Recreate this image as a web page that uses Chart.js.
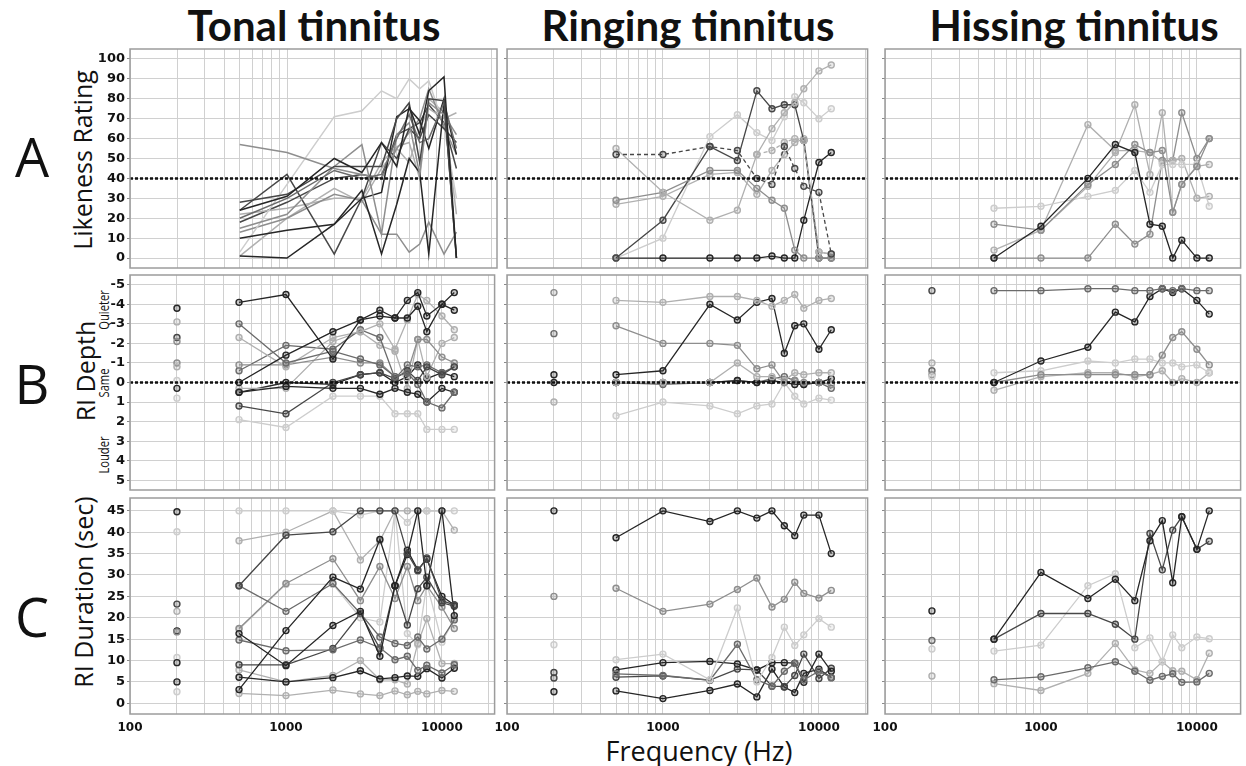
<!DOCTYPE html>
<html>
<head>
<meta charset="utf-8">
<script src="https://cdn.jsdelivr.net/npm/chart.js@4.4.1/dist/chart.umd.min.js"></script>
<style>
body{margin:0;background:#fff;width:1246px;height:766px;position:relative;overflow:hidden;font-family:'Open Sans',sans-serif;color:#111;}
canvas{position:absolute;}
.lab{position:absolute;white-space:nowrap;transform:translate(-50%,-50%);line-height:1;}
.rot{transform:translate(-50%,-50%) rotate(-90deg);}
.tiny{transform:translate(-50%,-50%) rotate(-90deg) scaleX(0.8);font-size:14px;}
.title{font-family:Lato,sans-serif;font-weight:700;font-size:42px;}
.letter{font-size:54px;}
.axt{font-size:25px;}
</style>
</head>
<body>
<div class="lab title" style="left:314px;top:25px">Tonal tinnitus</div>
<div class="lab title" style="left:688px;top:25px">Ringing tinnitus</div>
<div class="lab title" style="left:1074px;top:25px">Hissing tinnitus</div>
<div class="lab letter" style="left:32px;top:156px">A</div>
<div class="lab letter" style="left:32px;top:383px">B</div>
<div class="lab letter" style="left:32px;top:616px">C</div>
<div class="lab axt rot" style="left:82px;top:160px">Likeness Rating</div>
<div class="lab axt rot" style="left:85px;top:371px">RI Depth</div>
<div class="lab tiny" style="left:104px;top:310px">Quieter</div>
<div class="lab tiny" style="left:104px;top:383px">Same</div>
<div class="lab tiny" style="left:104px;top:455px">Louder</div>
<div class="lab axt rot" style="left:83px;top:592px">RI Duration (sec)</div>
<div class="lab" style="left:699px;top:750px;font-size:27px">Frequency (Hz)</div>
<script>
// frequencies (Hz)
var freqs = [500, 1000, 2000, 3000, 4000, 5000, 6000, 7000, 8000, 10000, 12000];
var refFreq = 200;
var gridFreqs = [100, 200, 300, 400, 500, 600, 700, 800, 900, 1000, 2000, 3000, 4000, 5000, 6000, 7000, 8000, 9000, 10000, 20000];
var xTickLabels = [100, 1000, 10000];
var likenessTicks = [0, 10, 20, 30, 40, 50, 60, 70, 80, 90, 100];
var depthTicks = [-5, -4, -3, -2, -1, 0, 1, 2, 3, 4, 5];
var durationTicks = [0, 5, 10, 15, 20, 25, 30, 35, 40, 45];
var likenessCriterion = 40;
var sameDepth = 0;

// A: likeness rating
var tonalLikeness = [
	[24, 31, 50, 43, 58, 46, 76, 62, 84, 91, 0],
	[28, 32, 46, 46, 46, 70, 78, 48, 80, 79, 0],
	[20, 30, 44, 40, 42, 60, 72, 58, 60, 78, 55],
	[15, 22, 46, 57, 12, 62, 68, 42, 78, 72, 62],
	[10, 14, 17, 30, 33, 71, 75, 69, 55, 80, 0],
	[1, 0, 17, 34, 2, 27, 50, 43, 2, 78, 52],
	[24, 42, 2, 30, 58, 50, 65, 60, 72, 65, 58],
	[57, 53, 45, 42, 40, 55, 63, 70, 85, 66, 52],
	[3, 37, 71, 74, 84, 80, 90, 85, 89, 66, 30],
	[13, 20, 32, 29, 12, 12, 3, 7, 18, 2, 13],
	[1, 20, 35, 28, 45, 55, 48, 65, 75, 70, 73],
	[22, 25, 30, 30, 48, 56, 58, 40, 80, 73, 22],
	[18, 28, 40, 42, 40, 62, 65, 68, 77, 68, 45]
];
var ringingLikeness = [
	[55, 33, 19, 24, 52, 65, 73, 78, 85, 94, 97],
	[29, 33, 44, 44, 35, 29, 25, 4, 0, 0, 0],
	[0, 19, 56, 49, 84, 75, 77, 77, 59, 0, 0],
	[0, 10, 61, 72, 63, 59, 71, 81, 78, 70, 75],
	[0, 0, 0, 0, 0, 1, 0, 0, 19, 48, 53],
	[27, 31, 42, 43, 32, 44, 52, 58, 60, 3, 2]
];
var ringingLikenessDashed = [
	[52, 52, 56, 54, 40, 37, 56, 45, 36, 33, 2],
	[null, null, null, null, 52, 54, 58, 60, 59, 3, 2]
];
var hissingLikeness = [
	[0, 16, 40, 57, 53, 17, 16, 0, 9, 0, 0],
	[17, 14, 37, 47, 57, 53, 54, 23, 37, 46, 60],
	[4, 14, 36, 53, 77, 42, 73, 23, 37, 46, 47],
	[25, 26, 31, 34, 44, 33, 47, 47, 47, 47, 26],
	[null, 14, 67, 54, 54, 53, 48, 49, 50, 30, 31],
	[0, 0, 0, 17, 7, 12, 49, 49, 73, 50, 60]
];

// B: RI depth
var tonalDepth = [
	[-4.1, -4.5, -1.2, -3.2, -3.4, -3.3, -3.3, -3.9, -2.6, -4.0, -4.6],
	[0.0, -1.4, -2.6, -3.2, -3.7, -3.3, -4.2, -4.6, -3.4, -4.0, -3.7],
	[-3.0, -1.0, -1.6, -1.2, -0.9, -0.3, -0.5, 0.1, 1.0, 1.3, 0.5],
	[0.5, 0.2, 0.3, 0.3, 0.6, 0.3, 0.5, 0.6, 1.0, 0.3, 0.5],
	[1.2, 1.6, 0.0, -0.4, -0.5, -0.2, -0.6, -0.1, -0.8, -0.4, -0.8],
	[1.9, 2.3, 0.7, 0.7, 0.7, 1.6, 1.6, 1.6, 2.4, 2.4, 2.4],
	[-2.3, -0.8, -2.3, -2.6, -3.0, -1.7, -3.2, -4.5, -4.2, -3.4, -2.7],
	[-0.9, -0.9, -1.3, -1.0, -1.0, -0.3, -0.5, -2.2, -2.2, -1.3, -1.0],
	[-0.6, -1.9, -1.7, -2.7, -2.3, -0.2, -0.9, -0.8, -0.9, -0.5, -0.8],
	[0.3, 0.3, -2.1, -2.6, -1.9, -1.6, 0.3, -2.2, -0.3, -2.0, -2.3],
	[0.5, 0.0, 0.1, -0.4, -0.5, 0.0, -0.3, -0.9, -0.2, -0.5, -0.3]
];
var tonalDepthRef = [-3.8, -3.1, -2.3, -2.1, -1.0, -0.8, -0.1, 0.3, 0.8];
var ringingDepth = [
	[-4.2, -4.1, -4.4, -4.4, -4.2, -3.9, -4.2, -4.5, -3.8, -4.2, -4.3],
	[-0.4, -0.6, -4.0, -3.2, -4.1, -4.3, -1.5, -2.9, -3.0, -1.7, -2.7],
	[-2.9, -2.0, -2.0, -1.9, -0.7, -0.9, 0.0, -0.1, 0.0, 0.0, 0.1],
	[1.7, 1.0, 1.2, 1.6, 1.2, 1.1, 0.0, 0.7, 1.1, 0.8, 0.9],
	[0.0, 0.0, 0.0, -1.0, -0.3, -0.3, -0.1, -0.5, -0.4, -0.5, -0.5],
	[0.0, 0.0, 0.0, -0.1, 0.0, -0.1, 0.0, 0.1, 0.1, 0.0, -0.2],
	[0.0, 0.1, 0.0, -0.1, 0.0, -0.2, -0.3, -0.1, 0.1, 0.0, 0.3]
];
var ringingDepthRef = [-4.6, -2.5, -0.4, 0.0, 1.0];
var hissingDepth = [
	[-4.7, -4.7, -4.8, -4.8, -4.7, -4.7, -4.8, -4.7, -4.8, -4.7, -4.7],
	[0.0, -1.1, -1.8, -3.6, -3.1, -4.4, -4.8, -4.6, -4.8, -4.2, -3.5],
	[0.0, -0.4, -0.4, -0.4, -0.4, -0.4, -1.4, -2.3, -2.6, -1.7, -0.9],
	[-0.5, -0.6, -1.1, -1.0, -1.2, -1.2, -1.0, -1.0, -0.8, -0.9, -0.5],
	[0.4, -0.3, -0.5, -0.5, -0.3, -0.4, -0.6, 0.0, -0.2, 0.0, -0.5]
];
var hissingDepthRef = [-4.7, -1.0, -0.6, -0.4, -0.3];

// C: RI duration (sec)
var tonalDuration = [
	[27.5, 39.3, 40.1, 45, 45, 45, 35, 31, 34, 24, 23],
	[3.2, 17, 29.5, 26.7, 38.3, 27.5, 35.8, 31.2, 33.7, 25, 23],
	[16.3, 8.8, 18.2, 21.5, 11, 27.5, 34.8, 45, 27.5, 45, 20.5],
	[27.5, 21.5, 28, 21, 15.5, 14, 13.5, 15.5, 12.7, 15, 19.5],
	[14.8, 12.3, 12.5, 14.8, 13, 10.2, 11, 7.7, 8.9, 7.1, 9],
	[6.1, 5.0, 6.0, 7.6, 5.7, 6.0, 6.4, 6.3, 8.1, 5.9, 8.2],
	[9, 9, 12.8, 21, 12.8, 27.5, 18.3, 26.8, 29.5, 23.5, 22.7],
	[2.3, 1.8, 3.1, 2.2, 1.8, 2.9, 2.0, 2.8, 2.2, 3.0, 2.8],
	[45, 45, 45, 44, 45, 45, 42.3, 45, 45, 45, 45],
	[38, 40, 45, 33.5, 38, 45, 45, 45, 45, 45, 40.5],
	[17.5, 28, 33.8, 24, 32, 24.5, 32, 24, 27.5, 22.5, 17.5],
	[7.8, 5, 6.5, 10, 5.5, 5.5, 4.5, 14, 19.8, 9.3, 9.3],
	[17.3, 27.8, 27.8, 20, 19, 45, 16.3, 13.7, 28, 14.3, 19.8]
];
var tonalDurationRef = [44.8, 40.1, 23.2, 21.5, 16.9, 16.7, 10.7, 9.5, 5.0, 2.7];
var ringingDuration = [
	[38.7, 45, 42.5, 45, 43.3, 45, 41.5, 39.2, 44, 44, 35],
	[26.9, 21.5, 23.2, 26.6, 29.3, 22.5, 24.3, 28.3, 25.7, 24.6, 26.4],
	[10.2, 11.5, 5.5, 22.3, 5, 10.7, 17.8, 13.5, 16, 19.8, 17.8],
	[6.9, 6.5, 5.4, 13.8, 5.5, 4, 7.5, 9.3, 5.5, 7.5, 6],
	[7.8, 9.5, 9.8, 9.2, 7.8, 9.5, 9.5, 9.4, 4.9, 11.5, 7.5],
	[6.1, 6.4, 5.4, 8, 7.8, 4.0, 3.9, 6.5, 11.5, 5.8, 8.2],
	[2.9, 1.1, 3.0, 4.5, 1.5, 8, 3.8, 2.5, 7, 8, 6]
];
var ringingDurationRef = [45, 25, 13.7, 7.2, 5.9, 2.7];
var hissingDuration = [
	[15, 30.6, 24.5, 29, 24, 38, 42.7, 28.2, 43.6, 36, 45],
	[15, 21, 21, 18.5, 15, 39.7, 31.2, 40.5, 43.6, 36, 37.9],
	[12.2, 13.6, 27.5, 30.3, 13, 15.3, 9.8, 16, 13, 15.5, 15.1],
	[5.5, 6.2, 8.3, 9.7, 7.5, 5.4, 6.3, 6.9, 4.9, 5, 7],
	[4.6, 3, 7, 14, 7.8, 7, 9.7, 7.6, 7.5, 5.5, 11.7]
];
var hissingDurationRef = [21.6, 14.7, 12.7, 6.4];

// grey levels, one letter per series
var inks = {k: '#262626', d: '#474747', m: '#6b6b6b', g: '#8e8e8e', l: '#b0b0b0', x: '#cdcdcd'};
var panels = [
	[
		{s: tonalLikeness, ink: 'kdmgkkdgxglld', marks: false},
		{s: ringingLikeness, ink: 'lgdxkl', dash: ringingLikenessDashed, dashInk: 'dl'},
		{s: hissingLikeness, ink: 'kglxlg'}
	],
	[
		{s: tonalDepth, ink: 'kkmkdxlgmlk', ref: tonalDepthRef, refInk: 'kldgglxkx'},
		{s: ringingDepth, ink: 'lkgxlkm', ref: ringingDepthRef, refInk: 'gmkkl'},
		{s: hissingDepth, ink: 'mkgxl', ref: hissingDepthRef, refInk: 'dlmgx'}
	],
	[
		{s: tonalDuration, ink: 'dkkmmkdlxlglx', ref: tonalDurationRef, refInk: 'kxdlkgxkkx'},
		{s: ringingDuration, ink: 'kgxmkdk', ref: ringingDurationRef, refInk: 'kgxddk'},
		{s: hissingDuration, ink: 'kdxml', ref: hissingDurationRef, refInk: 'kmxl'}
	]
];
var rowTicks = [likenessTicks, depthTicks, durationTicks];
var rowRange = [[-5, 105], [-5.5, 5.5], [-2.5, 48]];
var rowCriterion = [likenessCriterion, sameDepth, null];

var colBox = [[130, 497], [507, 870], [885, 1243]];
var rowBox = [[49, 268], [275, 490], [498, 714]];
var pxPerDecade = 157;

var framePlugin = {
	id: 'frame',
	afterDraw: function(c) {
		var a = c.chartArea, x = c.ctx;
		x.save();
		x.strokeStyle = '#9c9c9c';
		x.lineWidth = 1.5;
		x.strokeRect(a.left, a.top, a.right - a.left, a.bottom - a.top);
		x.restore();
	}
};

function pts(vals) {
	var out = [];
	vals.forEach(function(v, i) { if (v !== null) out.push({x: freqs[i], y: v}); });
	return out;
}

function makePanel(row, col) {
	var p = panels[row][col];
	var l = colBox[col][0], r = colBox[col][1], t = rowBox[row][0], b = rowBox[row][1];
	var padL = col === 0 ? 50 : 22, padR = 3, padT = 10, padB = row === 2 ? 26 : 10;
	var xMax = 100 * Math.pow(10, (r - l) / pxPerDecade);
	var cv = document.createElement('canvas');
	cv.width = r - l + padL + padR;
	cv.height = b - t + padT + padB;
	cv.style.left = (l - padL) + 'px';
	cv.style.top = (t - padT) + 'px';
	document.body.appendChild(cv);

	var marks = p.marks !== false;
	var ds = [];
	if (rowCriterion[row] !== null) {
		ds.push({
			data: [{x: 100, y: rowCriterion[row]}, {x: xMax, y: rowCriterion[row]}],
			borderColor: '#111', borderWidth: 2.5, borderDash: [3, 2], pointRadius: 0
		});
	}
	if (p.ref) {
		var rc = p.refInk.split('').map(function(k) { return inks[k]; });
		ds.push({
			data: p.ref.map(function(v) { return {x: refFreq, y: v}; }),
			showLine: false, pointRadius: 3, pointBorderWidth: 1.4,
			pointBorderColor: rc, pointBackgroundColor: rc.map(function(c) { return c + '40'; })
		});
	}
	if (p.dash) {
		p.dash.forEach(function(vals, i) {
			var c = inks[p.dashInk[i]];
			ds.push({
				data: pts(vals), borderColor: c, borderWidth: 1.3, borderDash: [4, 3],
				pointRadius: 3, pointBorderWidth: 1.4, pointBorderColor: c, pointBackgroundColor: c + '40'
			});
		});
	}
	p.s.forEach(function(vals, i) {
		var c = inks[p.ink[i]];
		ds.push({
			data: pts(vals), borderColor: c, borderWidth: marks ? 1.3 : 1.5,
			pointRadius: marks ? 3 : 0, pointBorderWidth: 1.4,
			pointBorderColor: c, pointBackgroundColor: c + '40'
		});
	});

	var yTicks = rowTicks[row];
	new Chart(cv, {
		type: 'line',
		data: {datasets: ds},
		plugins: [framePlugin],
		options: {
			responsive: false,
			animation: false,
			devicePixelRatio: 1,
			layout: {padding: {top: padT, right: padR, left: 0, bottom: 0}},
			plugins: {legend: {display: false}, tooltip: {enabled: false}},
			elements: {line: {tension: 0}},
			scales: {
				x: {
					type: 'logarithmic', min: 100, max: xMax,
					afterBuildTicks: function(s) {
						s.ticks = gridFreqs.filter(function(v) { return v <= xMax; }).map(function(v) { return {value: v}; });
					},
					afterFit: function(s) { s.height = padB; s.paddingLeft = 0; s.paddingRight = 0; },
					grid: {color: '#d0d0d0', lineWidth: 1, drawTicks: false},
					border: {display: false},
					ticks: {
						display: row === 2, autoSkip: false, maxRotation: 0, minRotation: 0, padding: 7,
						color: '#111', font: {family: 'DejaVu Sans', weight: 'bold', size: 12},
						callback: function(v) { return xTickLabels.indexOf(v) >= 0 ? String(v) : ''; }
					}
				},
				y: {
					type: 'linear', min: rowRange[row][0], max: rowRange[row][1], reverse: row === 1,
					afterBuildTicks: function(s) {
						s.ticks = yTicks.map(function(v) { return {value: v}; });
					},
					afterFit: function(s) { s.width = padL; s.paddingTop = 0; s.paddingBottom = 0; },
					grid: {color: '#d0d0d0', lineWidth: 1, drawTicks: true, tickLength: 3, tickColor: '#8a8a8a'},
					border: {display: false},
					ticks: {
						display: col === 0, padding: 2, color: '#111',
						font: {family: 'DejaVu Sans', weight: 'bold', size: 13}
					}
				}
			}
		}
	});
}

for (var row = 0; row < 3; row++) {
	for (var col = 0; col < 3; col++) {
		makePanel(row, col);
	}
}
</script>
</body>
</html>
